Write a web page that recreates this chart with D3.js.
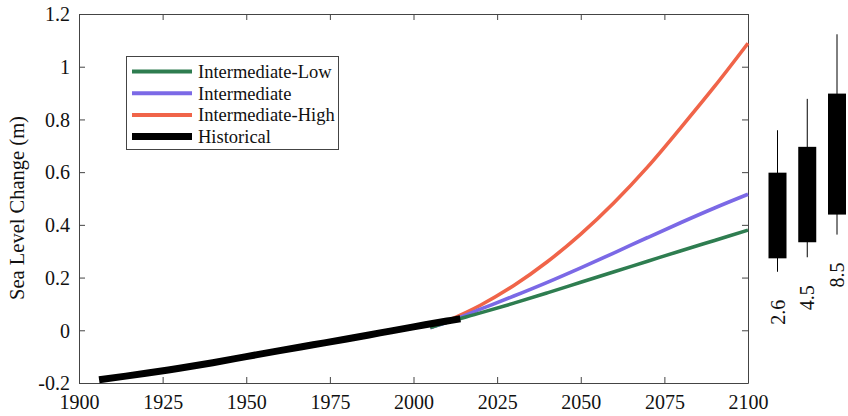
<!DOCTYPE html>
<html>
<head>
<meta charset="utf-8">
<script src="https://cdn.jsdelivr.net/npm/d3@7"></script>
<style>
  body { margin: 0; background: #fff; }
  svg { display: block; }
</style>
</head>
<body>
<svg id="chart" width="848" height="416"></svg>
<script>
const width = 848, height = 416;
const svg = d3.select("#chart");
const serif = "Liberation Serif";

// data
const histYears = [1906, 1920, 1930, 1940, 1950, 1960, 1970, 1980, 1990, 2000, 2010, 2014];
const histValues = [-0.188, -0.163, -0.144, -0.123, -0.100, -0.077, -0.055, -0.033, -0.010, 0.013, 0.035, 0.044];

const projYears = [2005, 2010, 2020, 2030, 2040, 2050, 2060, 2070, 2080, 2090, 2100];
const lowValues  = [0.01, 0.03, 0.066, 0.103, 0.142, 0.182, 0.222, 0.262, 0.302, 0.341, 0.380];
const midValues  = [0.01, 0.03, 0.08, 0.13, 0.182, 0.237, 0.294, 0.352, 0.409, 0.464, 0.516];
const highValues = [0.01, 0.035, 0.095, 0.17, 0.26, 0.365, 0.485, 0.62, 0.77, 0.925, 1.089];

const rcpLabels = ["2.6", "4.5", "8.5"];
const rcpBoxLow = [0.273, 0.334, 0.439];
const rcpBoxHigh = [0.598, 0.696, 0.898];
const rcpWhiskLow = [0.222, 0.277, 0.363];
const rcpWhiskHigh = [0.759, 0.878, 1.123];

const xTicks = [1900, 1925, 1950, 1975, 2000, 2025, 2050, 2075, 2100];
const yTicks = [-0.2, 0, 0.2, 0.4, 0.6, 0.8, 1, 1.2];

const series = [
  { name: "Intermediate-Low", color: "#2e7d50", values: lowValues },
  { name: "Intermediate", color: "#7b69e6", values: midValues },
  { name: "Intermediate-High", color: "#f06449", values: highValues }
];

const margin = { left: 79, top: 14, right: 748, bottom: 383 };

const x = d3.scaleLinear().domain([1900, 2100]).range([margin.left, margin.right]);
const y = d3.scaleLinear().domain([-0.2, 1.2]).range([margin.bottom, margin.top]);

const axisColor = "#444";
const fontSize = 20;

// axes (ticks inside, mirrored on top and right)
const yFmt = d => String(+d.toFixed(1));
const gx = svg.append("g").attr("transform", `translate(0,${margin.bottom})`)
  .call(d3.axisBottom(x).tickValues(xTicks).tickFormat(d3.format("d")).tickSizeInner(-6).tickSizeOuter(0).tickPadding(9));
const gxTop = svg.append("g").attr("transform", `translate(0,${margin.top})`)
  .call(d3.axisTop(x).tickValues(xTicks).tickFormat("").tickSizeInner(-6).tickSizeOuter(0));
const gy = svg.append("g").attr("transform", `translate(${margin.left},0)`)
  .call(d3.axisLeft(y).tickValues(yTicks).tickFormat(yFmt).tickSizeInner(-6).tickSizeOuter(0).tickPadding(9));
const gyRight = svg.append("g").attr("transform", `translate(${margin.right},0)`)
  .call(d3.axisRight(y).tickValues(yTicks).tickFormat("").tickSizeInner(-6).tickSizeOuter(0));

[gx, gxTop, gy, gyRight].forEach(g => {
  g.attr("font-family", serif).attr("font-size", fontSize);
  g.selectAll("path, line").attr("stroke", axisColor).attr("stroke-width", 1);
  g.selectAll("text").attr("fill", "#111");
});
gx.selectAll("text").attr("dy", "0.85em");
gy.selectAll("text").attr("dy", "0.34em");

// y axis title
svg.append("text")
  .attr("transform", `translate(24,208) rotate(-90)`)
  .attr("text-anchor", "middle")
  .attr("font-family", serif)
  .attr("font-size", 20.5)
  .attr("fill", "#111")
  .text("Sea Level Change (m)");

// lines (high drawn first so the lower scenarios sit on top)
const line = d3.line().curve(d3.curveCatmullRom);
const plot = svg.append("g");

series.slice().reverse().forEach(s => {
  plot.append("path")
    .attr("d", line(projYears.map((yr, i) => [x(yr), y(s.values[i])])))
    .attr("fill", "none")
    .attr("stroke", s.color)
    .attr("stroke-width", 3.6);
});

plot.append("path")
  .attr("d", line(histYears.map((yr, i) => [x(yr), y(histValues[i])])))
  .attr("fill", "none")
  .attr("stroke", "#000")
  .attr("stroke-width", 7);

// legend
const legend = svg.append("g").attr("font-family", serif);
legend.append("rect")
  .attr("x", 126.5).attr("y", 56.5).attr("width", 212).attr("height", 93)
  .attr("fill", "#fff").attr("stroke", axisColor).attr("stroke-width", 1);

const legendItems = series.map(s => ({ name: s.name, color: s.color, w: 4 }))
  .concat([{ name: "Historical", color: "#000", w: 7 }]);

legendItems.forEach((d, i) => {
  const ly = 71.5 + i * 21.7;
  legend.append("line")
    .attr("x1", 132).attr("x2", 192).attr("y1", ly).attr("y2", ly)
    .attr("stroke", d.color).attr("stroke-width", d.w);
  legend.append("text")
    .attr("x", 198).attr("y", ly).attr("dy", "0.35em")
    .attr("font-size", 18.5).attr("fill", "#111")
    .text(d.name);
});

// RCP box plots on the right
const bx = d3.scalePoint().domain(rcpLabels).range([777.5, 837]);
const boxW = 18;
const boxes = svg.append("g").attr("font-family", serif);

rcpLabels.forEach((lab, i) => {
  const cx = bx(lab);
  boxes.append("line")
    .attr("x1", cx).attr("x2", cx)
    .attr("y1", y(rcpWhiskHigh[i])).attr("y2", y(rcpWhiskLow[i]))
    .attr("stroke", "#000").attr("stroke-width", 1);
  boxes.append("rect")
    .attr("x", cx - boxW / 2).attr("width", boxW)
    .attr("y", y(rcpBoxHigh[i])).attr("height", y(rcpBoxLow[i]) - y(rcpBoxHigh[i]))
    .attr("fill", "#000");
  boxes.append("text")
    .attr("transform", `translate(${cx},${y(rcpWhiskLow[i]) + 28}) rotate(-90)`)
    .attr("text-anchor", "end")
    .attr("dy", "0.35em")
    .attr("font-size", fontSize)
    .attr("fill", "#111")
    .text(lab);
});
</script>
</body>
</html>
